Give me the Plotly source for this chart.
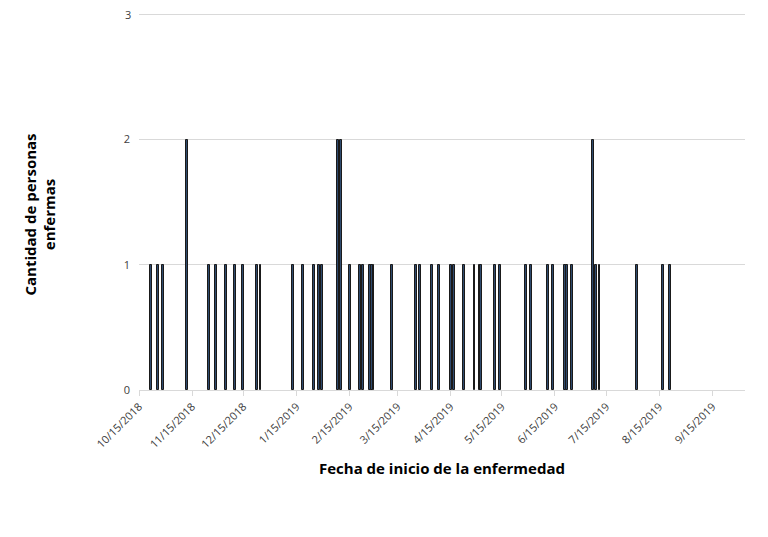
import plotly.graph_objects as go

# onset dates and case counts
fechas = ['2018-10-22', '2018-10-26', '2018-10-29', '2018-11-12', '2018-11-25', '2018-11-29',
          '2018-12-05', '2018-12-10', '2018-12-15', '2018-12-23', '2018-12-25', '2019-01-13',
          '2019-01-19', '2019-01-25', '2019-01-28', '2019-01-30', '2019-02-08', '2019-02-10',
          '2019-02-15', '2019-02-21', '2019-02-23', '2019-02-27', '2019-02-28', '2019-03-01',
          '2019-03-12', '2019-03-26', '2019-03-28', '2019-04-04', '2019-04-08', '2019-04-15',
          '2019-04-17', '2019-04-23', '2019-04-29', '2019-05-02', '2019-05-03', '2019-05-11',
          '2019-05-14', '2019-05-29', '2019-06-01', '2019-06-11', '2019-06-14', '2019-06-21',
          '2019-06-22', '2019-06-25', '2019-07-07', '2019-07-09', '2019-07-11', '2019-08-02',
          '2019-08-17', '2019-08-21']
casos = [1, 1, 1, 2, 1, 1,
         1, 1, 1, 1, 1, 1,
         1, 1, 1, 1, 2, 2,
         1, 1, 1, 1, 1, 1,
         1, 1, 1, 1, 1, 1,
         1, 1, 1, 1, 1, 1,
         1, 1, 1, 1, 1, 1,
         1, 1, 2, 1, 1, 1,
         1, 1]

tick_vals = ['2018-10-15', '2018-11-15', '2018-12-15', '2019-01-15', '2019-02-15', '2019-03-15',
             '2019-04-15', '2019-05-15', '2019-06-15', '2019-07-15', '2019-08-15', '2019-09-15']
tick_text = ['10/15/2018', '11/15/2018', '12/15/2018', '1/15/2019', '2/15/2019', '3/15/2019',
             '4/15/2019', '5/15/2019', '6/15/2019', '7/15/2019', '8/15/2019', '9/15/2019']
y_max = 3

fig = go.Figure(go.Bar(
    x=fechas, y=casos, width=86400000 * 1.1,
    marker=dict(color='#2e4a6e', line=dict(color='#1a1a1a', width=1)),
))

fig.update_layout(
    width=768, height=537, plot_bgcolor='white', paper_bgcolor='white',
    margin=dict(l=131, r=31, t=0, b=155),
    font=dict(family='Open Sans, DejaVu Sans', size=11, color='#404040'),
    showlegend=False, bargap=0,
    xaxis=dict(range=['2018-10-15', '2019-10-04'], tickvals=tick_vals, ticktext=tick_text,
               tickangle=-45, showgrid=False, showline=True, linecolor='#d9d9d9',
               ticks='outside', tickcolor='#d9d9d9', ticklen=5, automargin=False,
               title=dict(text='<b>Fecha de inicio de la enfermedad</b>', standoff=13,
                          font=dict(size=15, color='black'))),
    yaxis=dict(range=[0, 3.05], tickvals=[0, 1, 2, 3], showgrid=True, gridcolor='#d9d9d9',
               zeroline=False, ticklabelstandoff=8, automargin=False),
    annotations=[dict(text='<b>Cantidad de personas<br>enfermas</b>', x=-0.163, y=0.46,
                      xref='paper', yref='paper', xanchor='center', yanchor='middle',
                      textangle=-90, showarrow=False,
                      font=dict(size=15, color='black')),
                 dict(text=str(y_max), x=0, y=y_max, xref='paper', yref='y',
                      xanchor='right', yanchor='middle', xshift=-6, showarrow=False)],
)

fig.write_html('out.html')
